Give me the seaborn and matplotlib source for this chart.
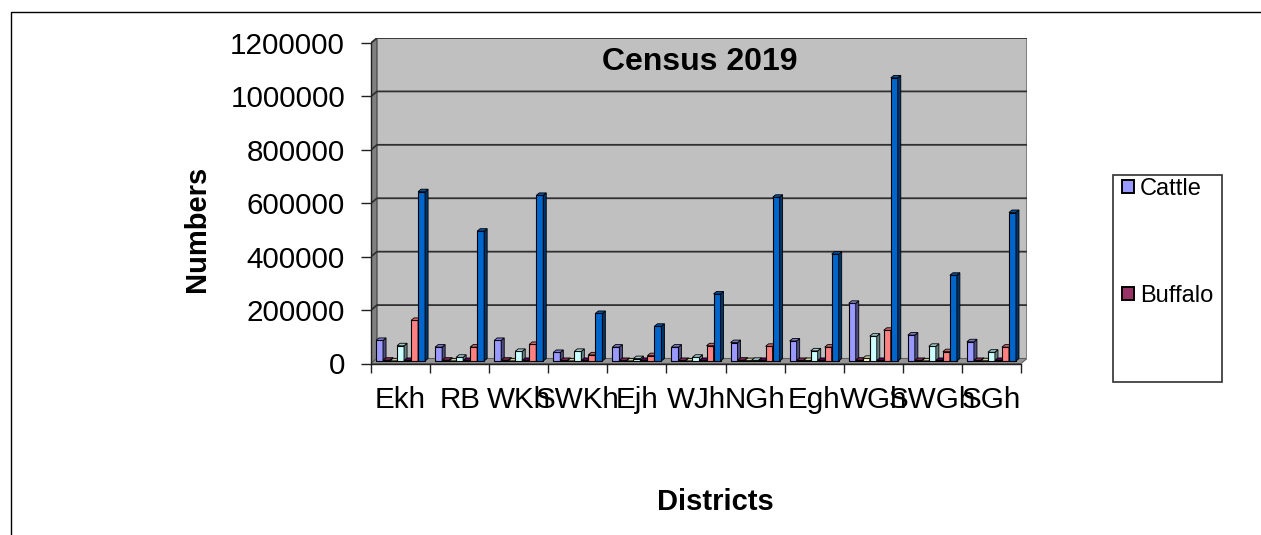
import numpy as np
import pandas as pd
import seaborn as sns
import matplotlib.pyplot as plt
from matplotlib.patches import Polygon, Rectangle, Patch
from matplotlib.lines import Line2D

# ---------------- Datos ----------------
distritos = ['Ekh', 'RB', 'WKh', 'SWKh', 'Ejh', 'WJh', 'NGh', 'Egh', 'WGh', 'SWGh', 'SGh']

cattle  = [77000, 52000, 77000, 32000, 52000, 52000, 69000, 75000, 216000, 97000, 72000]
buffalo = [3000, 3000, 3000, 2000, 2000, 2000, 3000, 2000, 3000, 2000, 2000]
serie3  = [500, 500, 500, 500, 500, 500, 1500, 2000, 10000, 500, 1000]
serie4  = [57000, 14000, 36000, 36000, 9000, 14000, 2500, 38000, 93000, 55000, 33000]
serie5  = [2000, 2000, 2000, 2000, 2000, 2000, 2000, 2000, 2000, 2000, 2000]
serie6  = [152000, 52000, 62000, 23000, 20000, 57000, 55000, 52000, 115000, 35000, 52000]
serie7  = [634000, 486000, 620000, 178000, 130000, 251000, 613000, 400000, 1060000, 321000, 556000]

nombres = ['Cattle', 'Buffalo', 'Serie 3', 'Serie 4', 'Serie 5', 'Serie 6', 'Serie 7']
colores = ['#9999FF', '#993366', '#FFFFCC', '#CCFFFF', '#660066', '#FF8080', '#0066CC']
marcas_y = [0, 200000, 400000, 600000, 800000, 1000000, 1200000]

series = [cattle, buffalo, serie3, serie4, serie5, serie6, serie7]
df = pd.DataFrame({
    'distrito': distritos * len(series),
    'serie': np.repeat(nombres, len(distritos)),
    'valor': np.concatenate(series),
})

# ---------------- Figura ----------------
sns.set_style('white')
plt.rcParams['font.family'] = ['Liberation Sans', 'DejaVu Sans']
plt.rcParams['text.color'] = 'black'
plt.rcParams['axes.labelcolor'] = 'black'
plt.rcParams['xtick.labelcolor'] = 'black'
plt.rcParams['ytick.labelcolor'] = 'black'

W, H = 1261, 535
fig = plt.figure(figsize=(W / 100, H / 100), dpi=100)
ax = fig.add_axes([371 / W, (H - 363.5) / H, 656 / W, 325.5 / H])

# Profundidad de la "caja" 3D en unidades de datos
y_tope = marcas_y[-1]
px_x = 1 / 59
px_y = y_tope / 320.5
dx, dy = 6 * px_x, 5 * px_y
x0, x1 = -0.5, len(distritos) - 0.5

# Barras (primero, para tomar solo sus rectangulos)
sns.barplot(data=df, x='distrito', y='valor', hue='serie', hue_order=nombres, palette=colores,
            order=distritos, width=0.83, gap=0, saturation=1, legend=False, errorbar=None,
            edgecolor='black', linewidth=0.8, ax=ax)
barras = sorted(ax.patches, key=lambda p: p.get_x())
ax.set_xlim(x0, x1 + dx)
ax.set_ylim(0, y_tope + dy)

# Paredes y piso
ax.add_patch(Rectangle((x0 + dx, dy), x1 - x0, y_tope, fc='#C0C0C0', ec='none', zorder=1))
ax.add_patch(Polygon([(x0, 0), (x0 + dx, dy), (x0 + dx, y_tope + dy), (x0, y_tope)],
                     fc='#808080', ec='#404040', lw=0.8, zorder=1))
ax.add_patch(Polygon([(x0, 0), (x1, 0), (x1 + dx, dy), (x0 + dx, dy)],
                     fc='#969696', ec='#606060', lw=0.8, zorder=1))
ax.plot([x1 + dx, x1 + dx], [dy, y_tope + dy], color='#808080', lw=1.5, zorder=2)
for v in marcas_y[1:]:
    ax.plot([x0, x0 + dx, x1 + dx], [v, v + dy, v + dy], color='#303030', lw=1.3, zorder=2)

# Caras laterales y superiores a partir de cada barra de seaborn
bx, by = 3 * px_x, 2.5 * px_y
for k, b in enumerate(barras):
    b.set_y(by)
    b.set_zorder(10 + k)
    x, w, h = b.get_x(), b.get_width(), b.get_height()
    r, g, a = b.get_facecolor()[:3]
    oscuro = (r * 0.5, g * 0.5, a * 0.5)
    medio = (r * 0.8, g * 0.8, a * 0.8)
    ax.add_patch(Polygon([(x + w, by), (x + w + bx, by + by), (x + w + bx, by + h + by), (x + w, by + h)],
                         fc=oscuro, ec='black', lw=0.6, zorder=10 + k))
    ax.add_patch(Polygon([(x, by + h), (x + w, by + h), (x + w + bx, by + h + by), (x + bx, by + h + by)],
                         fc=medio, ec='black', lw=0.6, zorder=10 + k))

# Ejes
sns.despine(ax=ax, top=True, right=True)
ax.spines['left'].set_bounds(0, y_tope)
ax.spines['bottom'].set_bounds(x0, x1)
for s in ['left', 'bottom']:
    ax.spines[s].set_color('#202020')
    ax.spines[s].set_linewidth(1)
    ax.spines[s].set_zorder(3)

ax.set_yticks(marcas_y)
ax.set_yticklabels([str(v) for v in marcas_y])
ax.tick_params(axis='y', left=True, length=7.2, width=1, pad=11.5, labelsize=21.3, color='#202020')

ax.set_xticks(np.arange(x0, x1 + 0.5))
ax.set_xticklabels([])
ax.set_xticks(np.arange(len(distritos)), minor=True)
ax.set_xticklabels(distritos, minor=True)
ax.tick_params(axis='x', which='major', bottom=True, length=6.5, width=1, color='#202020')
ax.tick_params(axis='x', which='minor', bottom=False, length=0, pad=16, labelsize=21.3)

ax.set_xlabel('Districts', fontsize=21, fontweight='bold', va='center')
ax.xaxis.set_label_coords((715 - 371) / 656, -(502 - 363.5) / 325.5)
ax.set_ylabel('Numbers', fontsize=21, fontweight='bold', va='center')
ax.yaxis.set_label_coords((197 - 371) / 656, (363.5 - 229) / 325.5)
ax.text((700 - 371) / 656, (363.5 - 62) / 325.5, 'Census 2019', transform=ax.transAxes,
        ha='center', va='center', fontsize=23, fontweight='bold', zorder=50)

# Leyenda: solo se ven dos entradas
fig.add_artist(Rectangle((1113 / W, (H - 382) / H), 109 / W, 207 / H, transform=fig.transFigure,
                         fc='white', ec='#303030', lw=1.2))
manejadores = [Patch(fc=colores[0], ec='black', lw=1.4, label=nombres[0]),
               Patch(fc=colores[1], ec='black', lw=1.4, label=nombres[1])]
leg = fig.legend(handles=manejadores, loc='upper left', bbox_to_anchor=(1122 / W, (H - 178) / H),
                 frameon=False, fontsize=17, labelspacing=3.6, handlelength=0.5, handleheight=0.5,
                 handletextpad=0.25, borderpad=0, borderaxespad=0)

# Marco exterior recortado
fig.add_artist(Line2D([11 / W, 11 / W, 1], [0, (H - 12) / H, (H - 12) / H],
                      transform=fig.transFigure, color='black', lw=1))

plt.savefig('out.png', dpi=100)
